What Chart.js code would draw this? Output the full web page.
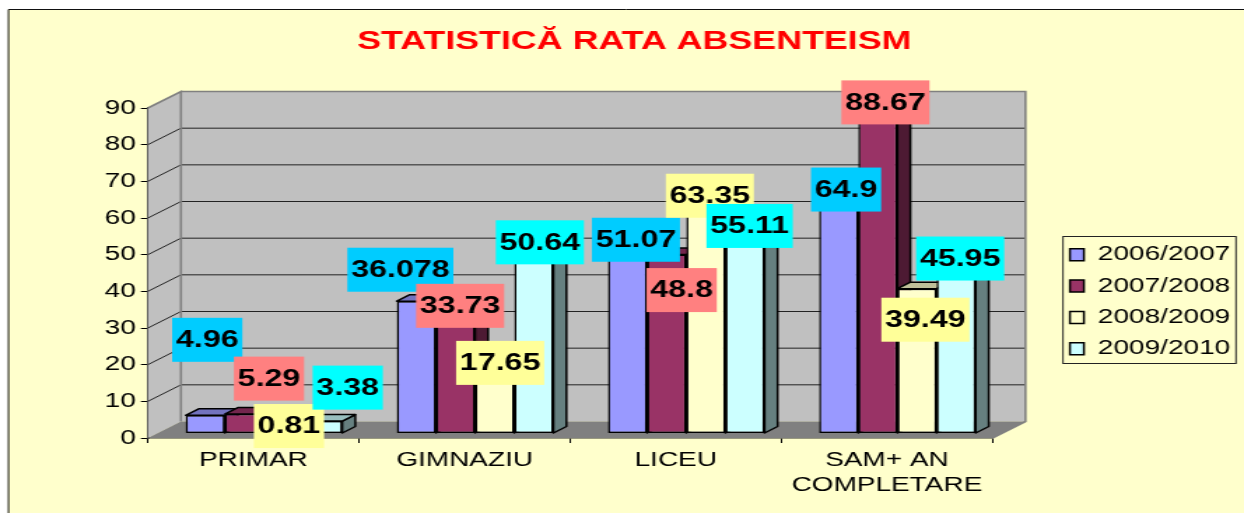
<!DOCTYPE html>
<html><head><meta charset="utf-8">
<style>
html,body{margin:0;padding:0;background:#fff;overflow:hidden;width:1244px;height:513px}
canvas{display:block;transform-origin:0 0;transform:scaleX(1.3993)}
</style>
<script src="https://cdn.jsdelivr.net/npm/chart.js@4"></script>
</head><body>
<canvas id="c" width="889" height="513"></canvas>
<script>
const categories = ["PRIMAR","GIMNAZIU","LICEU",["SAM+ AN","COMPLETARE"]];
const seriesNames = ["2006/2007","2007/2008","2008/2009","2009/2010"];
const s2006 = [4.96,36.078,51.07,64.9];
const s2007 = [5.29,33.73,48.8,88.67];
const s2008 = [0.81,17.65,63.35,39.49];
const s2009 = [3.38,50.64,55.11,45.95];
const yTicks = [0,10,20,30,40,50,60,70,80,90];
const title = "STATISTICĂ RATA ABSENTEISM";

const K = 1244/889;
const frontColors = ["#9999ff","#993366","#ffffcc","#ccffff"];
const topColors = ["#7373bf","#73264d","#bfbf99","#99bfbf"];
const sideColors = ["#4d4d80","#4d1a33","#808066","#668080"];
const labelColors = ["#00ccff","#ff8080","#ffff99","#00ffff"];
// offset of each value label from its bar top, in page pixels
const labelOffsets = [
 [[2,-76],[-16,-32],[8.4,-7],[7.4,-6.5]],
 [[24.6,-36],[4.6,-4.5],[15,35],[7.6,-6.5]],
 [[5.4,-5],[5.4,-6.4],[4,-6],[8.4,30.5]],
 [[25,-34],[6,-6],[4.6,-6],[4,-7]]
];
const WALL_DX = 33/K, WALL_DY = 16.5;
const BAR_SHIFT_X = 10.5/K, BAR_SHIFT_Y = -4.5;
const BAR_DX = 13/K, BAR_DY = 6.5;
const values = [s2006,s2007,s2008,s2009];

function poly(ctx, pts, fill, stroke, lw){
  ctx.beginPath();
  pts.forEach((p,i)=> i?ctx.lineTo(p[0],p[1]):ctx.moveTo(p[0],p[1]));
  ctx.closePath();
  if(fill){ctx.fillStyle=fill;ctx.fill();}
  if(stroke){ctx.strokeStyle=stroke;ctx.lineWidth=lw||1;ctx.stroke();}
}

const scene = {
  id:'scene',
  afterLayout(chart){
    const l = chart.legend;
    l.left = 753.3; l.right = l.left + l.width; l.top = 233.5; l.bottom = 440;
  },
  beforeDraw(chart){
    const ctx = chart.ctx, W = chart.width, H = chart.height;
    ctx.save();
    ctx.fillStyle = '#ffffcc';
    ctx.fillRect(8/K,9,W,H);
    ctx.strokeStyle = '#111'; ctx.lineWidth = 1;
    ctx.beginPath(); ctx.moveTo(8.5/K,H); ctx.lineTo(8.5/K,9.5); ctx.lineTo(W,9.5); ctx.stroke();
    // legend frame
    ctx.strokeStyle = '#222'; ctx.lineWidth = 1;
    ctx.strokeRect(1063/K,236.5,173/K,127);
    ctx.restore();
  },
  beforeDatasetsDraw(chart){
    const ctx = chart.ctx, a = chart.chartArea, y = chart.scales.y;
    const L=a.left,R=a.right,T=a.top,B=a.bottom,dx=WALL_DX,dy=WALL_DY;
    ctx.save();
    poly(ctx,[[L,T],[L+dx,T-dy],[L+dx,B-dy],[L,B]],'#c0c0c0');
    poly(ctx,[[L+dx,T-dy],[R+dx,T-dy],[R+dx,B-dy],[L+dx,B-dy]],'#c0c0c0');
    poly(ctx,[[L,B],[L+dx,B-dy],[R+dx,B-dy],[R,B]],'#808080');
    yTicks.forEach(v=>{
      if(v===0||v===90) return;
      const p = y.getPixelForValue(v);
      ctx.strokeStyle='#222'; ctx.lineWidth=1;
      ctx.beginPath(); ctx.moveTo(L,p); ctx.lineTo(L+dx,p-dy); ctx.lineTo(R+dx,p-dy); ctx.stroke();
    });
    ctx.strokeStyle='#808080'; ctx.lineWidth=1.6;
    ctx.beginPath();
    ctx.moveTo(L,T); ctx.lineTo(L+dx,T-dy); ctx.lineTo(L+dx,B-dy);
    ctx.moveTo(L+dx,T-dy); ctx.lineTo(R+dx,T-dy); ctx.lineTo(R+dx,B-dy); ctx.lineTo(R,B);
    ctx.stroke();
    ctx.restore();
  },
  beforeDatasetDraw(){ return false; },
  afterDatasetsDraw(chart){
    const ctx = chart.ctx;
    // left to right so that nearer neighbours cover the side faces
    values.forEach((vals,i)=>{
      const meta = chart.getDatasetMeta(i);
      ctx.save();
      ctx.translate(BAR_SHIFT_X,BAR_SHIFT_Y);
      meta.data.forEach(b=>{
        const l=b.x-b.width/2, r=b.x+b.width/2, t=b.y, bt=b.base;
        ctx.lineJoin='round';
        poly(ctx,[[r,t],[r+BAR_DX,t-BAR_DY],[r+BAR_DX,bt-BAR_DY],[r,bt]],sideColors[i],'#000',1.5);
        poly(ctx,[[l,t],[l+BAR_DX,t-BAR_DY],[r+BAR_DX,t-BAR_DY],[r,t]],topColors[i],'#000',1.5);
      });
      meta.controller.draw();
      ctx.restore();
    });
    // value labels
    ctx.save();
    ctx.font = 'bold 23px "Liberation Sans"';
    ctx.textAlign='center'; ctx.textBaseline='middle';
    values.forEach((vals,i)=>{
      const meta = chart.getDatasetMeta(i);
      vals.forEach((v,j)=>{
        const b = meta.data[j], off = labelOffsets[i][j];
        const cx = b.x+BAR_SHIFT_X+off[0]/K, cy = b.y-4+off[1];
        const txt = String(v), w = ctx.measureText(txt).width+5.4;
        ctx.fillStyle = labelColors[i];
        ctx.fillRect(cx-w/2,cy-22,w,44);
        ctx.fillStyle = '#000';
        ctx.fillText(txt,cx,cy+1);
      });
    });
    ctx.restore();
  }
};

new Chart(document.getElementById('c'),{
  type:'bar',
  plugins:[scene],
  data:{
    labels:categories,
    datasets:values.map((v,i)=>({
      label:seriesNames[i],
      data:v,
      backgroundColor:frontColors[i],
      borderColor:'#000',
      borderWidth:1.5,
      borderSkipped:false,
      categoryPercentage:0.742,
      barPercentage:1
    }))
  },
  options:{
    responsive:false,
    animation:false,
    devicePixelRatio:1,
    layout:{padding:{left:61.4,right:43.9,top:0,bottom:0}},
    plugins:{
      tooltip:{enabled:false},
      title:{display:true,text:title,color:'#ff0000',
        font:{family:'"Liberation Sans"',size:25.6,weight:'bold',lineHeight:1.2},
        padding:{top:27,bottom:50.3}},
      legend:{position:'right',align:'start',
        labels:{color:'#000',font:{family:'"Liberation Sans"',size:20},
          boxWidth:10,boxHeight:12,padding:11.3,
          generateLabels(chart){
            return seriesNames.map((n,i)=>({text:n,fillStyle:frontColors[i],strokeStyle:'#000',lineWidth:1.5,datasetIndex:i,hidden:false,fontColor:'#000'}));
          }}}
    },
    scales:{
      x:{
        grid:{drawOnChartArea:false,color:'#000',tickLength:5,offset:true},
        border:{color:'#333',width:1.5},
        ticks:{color:'#000',autoSkip:false,maxRotation:0,minRotation:0,padding:4.5,
          font:{family:'"Liberation Sans"',size:20,lineHeight:1.25}},
        afterFit(s){s.height=75;}
      },
      y:{
        min:0,max:90,
        afterBuildTicks(s){s.ticks=yTicks.map(v=>({value:v}));},
        grid:{drawOnChartArea:false,color:'#000',tickLength:5},
        border:{color:'#333',width:1.5},
        ticks:{color:'#000',padding:3.6,font:{family:'"Liberation Sans"',size:20}},
        afterFit(s){s.width=44.3;}
      }
    }
  }
});
</script>
</body></html>
